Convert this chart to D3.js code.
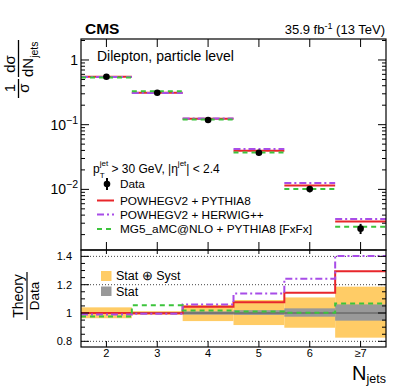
<!DOCTYPE html>
<html>
<head>
<meta charset="utf-8">
<script src="https://cdn.jsdelivr.net/npm/d3@7"></script>
<style>
  body { margin: 0; background: #fff; }
  svg { display: block; font-family: "Liberation Sans", Arial, Helvetica, sans-serif; }
</style>
</head>
<body>
<div id="chart"></div>
<script>
// bins and values
const bins = ["2", "3", "4", "5", "6", "\u22657"];
const dataVals = [0.552, 0.312, 0.118, 0.0369, 0.0101, 0.00247];
const powPy = [0.552, 0.311, 0.123, 0.0397, 0.0115, 0.0032];
const powHw = [0.546, 0.310, 0.125, 0.0420, 0.0125, 0.00347];
const mg5 = [0.538, 0.329, 0.120, 0.0373, 0.0101, 0.00264];

// theory / data
const ratioPowPy = [1.000, 0.998, 1.045, 1.076, 1.143, 1.295];
const ratioPowHw = [0.990, 0.995, 1.060, 1.137, 1.242, 1.403];
const ratioMg5 = [0.975, 1.054, 1.017, 1.010, 1.002, 1.068];

// relative uncertainty bands
const totUp = [1.040, 1.013, 1.057, 1.092, 1.110, 1.186];
const totDn = [0.963, 0.988, 0.943, 0.915, 0.896, 0.826];
const statUp = [1.006, 1.004, 1.012, 1.020, 1.033, 1.061];
const statDn = [0.994, 0.996, 0.988, 0.986, 0.974, 0.946];

const yTicksTop = [1, 0.1, 0.01];
const yTicksRatio = [0.8, 1, 1.2, 1.4];

const models = [
    {name: "POWHEGV2 + PYTHIA8", vals: powPy, ratio: ratioPowPy, color: "#e8262b", dash: null},
    {name: "POWHEGV2 + HERWIG++", vals: powHw, ratio: ratioPowHw, color: "#a84de8", dash: "7,3,2,3"},
    {name: "MG5_aMC@NLO + PYTHIA8 [FxFx]", vals: mg5, ratio: ratioMg5, color: "#3cc43c", dash: "5,4"}
];

// layout
const W = 407, H = 391;
const left = 81, right = 386;
const top1 = 39, bot1 = 250;
const top2 = 250, bot2 = 347;

const svg = d3.select("#chart").append("svg")
    .attr("width", W).attr("height", H);

const x = d3.scaleLinear().domain([0, bins.length]).range([left, right]);
const y = d3.scaleLog().domain([0.001156, 2.11]).range([bot1, top1]);
const yr = d3.scaleLinear().domain([0.76, 1.445]).range([bot2, top2]);

// ---------- top panel ----------
const main = svg.append("g");

// model histograms (no vertical connectors)
models.forEach(function(m) {
    main.selectAll(null)
        .data(m.vals)
        .enter().append("line")
        .attr("x1", function(d, i) { return x(i); })
        .attr("x2", function(d, i) { return x(i + 1); })
        .attr("y1", function(d) { return y(d); })
        .attr("y2", function(d) { return y(d); })
        .attr("stroke", m.color)
        .attr("stroke-width", 2)
        .attr("stroke-dasharray", m.dash);
});

// data points with total uncertainty
main.selectAll(".err")
    .data(dataVals)
    .enter().append("line")
    .attr("class", "err")
    .attr("x1", function(d, i) { return x(i + 0.5); })
    .attr("x2", function(d, i) { return x(i + 0.5); })
    .attr("y1", function(d, i) { return y(d * totUp[i]); })
    .attr("y2", function(d, i) { return y(d * totDn[i]); })
    .attr("stroke", "#000").attr("stroke-width", 2);
main.selectAll(".pt")
    .data(dataVals)
    .enter().append("circle")
    .attr("class", "pt")
    .attr("cx", function(d, i) { return x(i + 0.5); })
    .attr("cy", function(d) { return y(d); })
    .attr("r", 3.3)
    .attr("fill", "#000");

// frame
main.append("rect")
    .attr("x", left).attr("y", top1)
    .attr("width", right - left).attr("height", bot1 - top1)
    .attr("fill", "none").attr("stroke", "#000").attr("stroke-width", 1.2);

// log ticks (inward, both sides)
const logTicks = y.ticks();
logTicks.forEach(function(t) {
    const major = yTicksTop.indexOf(t) >= 0;
    const len = major ? 8 : 4;
    main.append("line").attr("x1", left).attr("x2", left + len)
        .attr("y1", y(t)).attr("y2", y(t)).attr("stroke", "#000");
    main.append("line").attr("x1", right).attr("x2", right - len)
        .attr("y1", y(t)).attr("y2", y(t)).attr("stroke", "#000");
});

// x ticks top panel
bins.forEach(function(b, i) {
    main.append("line").attr("x1", x(i + 0.5)).attr("x2", x(i + 0.5))
        .attr("y1", top1).attr("y2", top1 + 8).attr("stroke", "#000");
    main.append("line").attr("x1", x(i + 0.5)).attr("x2", x(i + 0.5))
        .attr("y1", bot1).attr("y2", bot1 - 8).attr("stroke", "#000");
});

// y tick labels
yTicksTop.forEach(function(t) {
    const txt = main.append("text")
        .attr("x", 78).attr("y", y(t) + 5)
        .attr("text-anchor", "end")
        .attr("font-size", 14);
    if (t === 1) {
        txt.text("1");
    } else {
        txt.append("tspan").text("10");
        txt.append("tspan").attr("dy", -6).attr("font-size", 10.5)
            .text("\u2212" + Math.round(-Math.log10(t)));
    }
});

// header texts
svg.append("text").attr("x", 85).attr("y", 34)
    .attr("font-size", 15.5).attr("font-weight", "bold").text("CMS");
const lumi = svg.append("text").attr("x", 385).attr("y", 34)
    .attr("text-anchor", "end").attr("font-size", 13);
lumi.append("tspan").text("35.9 fb");
lumi.append("tspan").attr("dy", -5).attr("font-size", 9).text("-1");
lumi.append("tspan").attr("dy", 5).text(" (13 TeV)");

svg.append("text").attr("x", 97).attr("y", 61)
    .attr("font-size", 14).text("Dilepton, particle level");

// legend
const cut = svg.append("text").attr("x", 93).attr("y", 173).attr("font-size", 12);
cut.append("tspan").text("p");
cut.append("tspan").attr("dy", -7.5).attr("font-size", 8).text("jet");
cut.append("tspan").attr("dx", -8.4).attr("dy", 12).attr("font-size", 8).text("T");
cut.append("tspan").attr("dx", 3.5).attr("dy", -4.5).text(" > 30 GeV, |\u03b7");
cut.append("tspan").attr("dy", -7.5).attr("font-size", 8).text("jet");
cut.append("tspan").attr("dy", 7.5).text("| < 2.4");

const legY = [184, 200.5, 214.5, 229];
svg.append("line").attr("x1", 107).attr("x2", 107)
    .attr("y1", legY[0] - 6).attr("y2", legY[0] + 6)
    .attr("stroke", "#000").attr("stroke-width", 2);
svg.append("circle").attr("cx", 107).attr("cy", legY[0]).attr("r", 3.3).attr("fill", "#000");
svg.append("text").attr("x", 120).attr("y", legY[0] + 4)
    .attr("font-size", 11.8).text("Data");
models.forEach(function(m, i) {
    svg.append("line").attr("x1", 97).attr("x2", 114)
        .attr("y1", legY[i + 1]).attr("y2", legY[i + 1])
        .attr("stroke", m.color).attr("stroke-width", 2)
        .attr("stroke-dasharray", m.dash);
    svg.append("text").attr("x", 120).attr("y", legY[i + 1] + 4)
        .attr("font-size", 11.8).text(m.name);
});

// y title (rotated fraction)
const yt = svg.append("g").attr("transform", "rotate(-90)");
yt.append("text").attr("x", -88).attr("y", 15).attr("text-anchor", "middle")
    .attr("font-size", 15).text("1");
yt.append("line").attr("x1", -98).attr("x2", -79).attr("y1", 18.5).attr("y2", 18.5)
    .attr("stroke", "#000").attr("stroke-width", 1.3);
yt.append("text").attr("x", -88).attr("y", 29).attr("text-anchor", "middle")
    .attr("font-size", 15).text("\u03c3");
yt.append("text").attr("x", -64).attr("y", 15).attr("text-anchor", "middle")
    .attr("font-size", 15).text("d\u03c3");
yt.append("line").attr("x1", -77).attr("x2", -40).attr("y1", 18.5).attr("y2", 18.5)
    .attr("stroke", "#000").attr("stroke-width", 1.3);
const dn = yt.append("text").attr("x", -77).attr("y", 33).attr("font-size", 15);
dn.append("tspan").text("dN");
dn.append("tspan").attr("dy", 5).attr("font-size", 10.5).text("jets");

// ---------- ratio panel ----------
const rat = svg.append("g");

// grid lines
yTicksRatio.forEach(function(t) {
    rat.append("line").attr("x1", left).attr("x2", right)
        .attr("y1", yr(t)).attr("y2", yr(t))
        .attr("stroke", "#444").attr("stroke-width", 1)
        .attr("stroke-dasharray", t === 1 ? null : "1,2");
});

// bands
rat.selectAll(".tot")
    .data(totUp)
    .enter().append("rect")
    .attr("class", "tot")
    .attr("x", function(d, i) { return x(i); })
    .attr("width", x(1) - x(0))
    .attr("y", function(d) { return yr(d); })
    .attr("height", function(d, i) { return yr(totDn[i]) - yr(d); })
    .attr("fill", "#ffcc66");
rat.selectAll(".stat")
    .data(statUp)
    .enter().append("rect")
    .attr("class", "stat")
    .attr("x", function(d, i) { return x(i); })
    .attr("width", x(1) - x(0))
    .attr("y", function(d) { return yr(d); })
    .attr("height", function(d, i) { return yr(statDn[i]) - yr(d); })
    .attr("fill", "#999999");

rat.append("line").attr("x1", left).attr("x2", right)
    .attr("y1", yr(1)).attr("y2", yr(1))
    .attr("stroke", "#555").attr("stroke-width", 1);

// model ratio step lines
const step = d3.line()
    .x(function(d) { return x(d[0]); })
    .y(function(d) { return yr(d[1]); });
models.forEach(function(m) {
    const pts = [];
    m.ratio.forEach(function(r, i) { pts.push([i, r]); pts.push([i + 1, r]); });
    rat.append("path")
        .attr("d", step(pts))
        .attr("fill", "none")
        .attr("stroke", m.color)
        .attr("stroke-width", 2)
        .attr("stroke-dasharray", m.dash);
});

// frame
rat.append("rect")
    .attr("x", left).attr("y", top2)
    .attr("width", right - left).attr("height", bot2 - top2)
    .attr("fill", "none").attr("stroke", "#000").attr("stroke-width", 1.2);

// ratio y ticks
d3.range(0.8, 1.4001, 0.05).forEach(function(t) {
    const major = Math.abs(t * 5 - Math.round(t * 5)) < 1e-6;
    const len = major ? 8 : 4;
    rat.append("line").attr("x1", left).attr("x2", left + len)
        .attr("y1", yr(t)).attr("y2", yr(t)).attr("stroke", "#000");
    rat.append("line").attr("x1", right).attr("x2", right - len)
        .attr("y1", yr(t)).attr("y2", yr(t)).attr("stroke", "#000");
});
yTicksRatio.forEach(function(t) {
    rat.append("text").attr("x", 72).attr("y", yr(t) + 4)
        .attr("text-anchor", "end").attr("font-size", 11)
        .text(t === 1 ? "1" : t.toFixed(1));
});

// x ticks and labels
bins.forEach(function(b, i) {
    rat.append("line").attr("x1", x(i + 0.5)).attr("x2", x(i + 0.5))
        .attr("y1", bot2).attr("y2", bot2 - 6).attr("stroke", "#000");
    rat.append("line").attr("x1", x(i + 0.5)).attr("x2", x(i + 0.5))
        .attr("y1", top2).attr("y2", top2 + 4).attr("stroke", "#000");
    rat.append("text").attr("x", x(i + 0.5)).attr("y", 357)
        .attr("text-anchor", "middle").attr("font-size", 11).text(b);
});

// ratio legend
rat.append("rect").attr("x", 101).attr("y", 271).attr("width", 10.5).attr("height", 10)
    .attr("fill", "#ffcc66");
rat.append("text").attr("x", 116).attr("y", 280).attr("font-size", 12.5).text("Stat \u2295 Syst");
rat.append("rect").attr("x", 101).attr("y", 286.5).attr("width", 10.5).attr("height", 9.5)
    .attr("fill", "#999999");
rat.append("text").attr("x", 116).attr("y", 295.5).attr("font-size", 12.5).text("Stat");

// ratio y title
const rt = svg.append("g").attr("transform", "rotate(-90)");
rt.append("text").attr("x", -296).attr("y", 23).attr("text-anchor", "middle")
    .attr("font-size", 14).text("Theory");
rt.append("line").attr("x1", -320).attr("x2", -272).attr("y1", 27).attr("y2", 27)
    .attr("stroke", "#000").attr("stroke-width", 1.2);
rt.append("text").attr("x", -296).attr("y", 39).attr("text-anchor", "middle")
    .attr("font-size", 13.5).text("Data");

// x title
const xt = svg.append("text").attr("x", 386).attr("y", 380)
    .attr("text-anchor", "end").attr("font-size", 20);
xt.append("tspan").text("N");
xt.append("tspan").attr("dy", 3).attr("font-size", 12.5).text("jets");
</script>
</body>
</html>
